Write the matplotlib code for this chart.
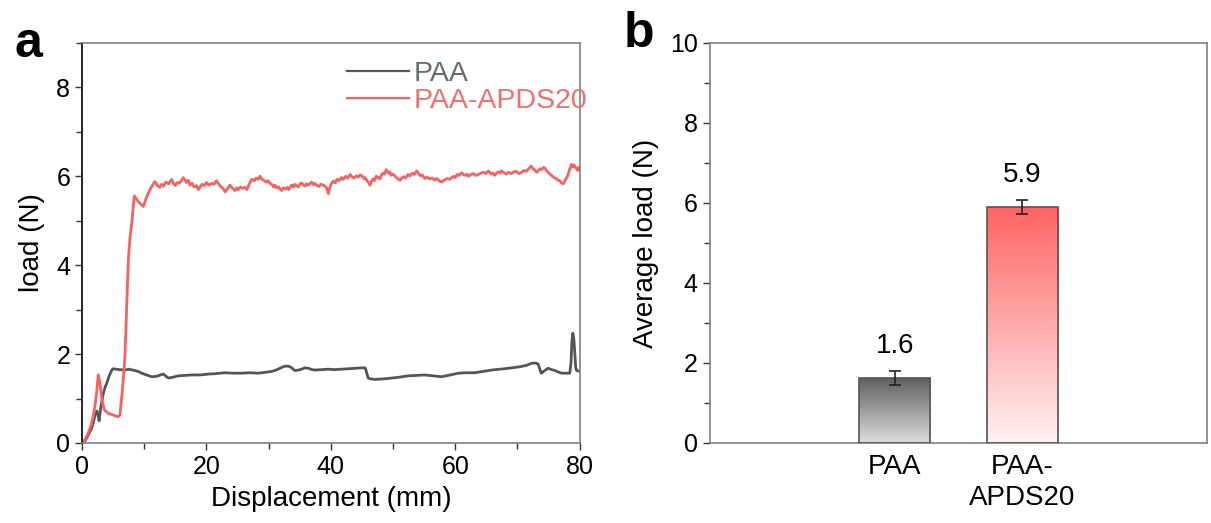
import numpy as np
import matplotlib

matplotlib.use("Agg")
import matplotlib.pyplot as plt
from matplotlib.colors import LinearSegmentedColormap
from matplotlib.ticker import MultipleLocator

plt.rcParams["font.family"] = ["Liberation Sans", "DejaVu Sans"]

# ---- panel a: load-displacement curves ----
paa_x = [0, 0.5, 1.0, 1.5, 1.8, 2.1, 2.4, 2.6, 2.75, 3.0, 3.4, 3.7, 4.0, 4.4, 4.8, 5.0,
         5.5, 6.0, 6.9, 7.5, 8.5, 9.2, 9.6, 10.4, 11.2, 12.0, 12.6, 13.1, 13.5, 13.9,
         14.6, 15.5, 16.5, 17.6, 19.0, 20.3, 21.5, 23.0, 24.3, 25.6, 27.0, 28.3, 29.5,
         30.5, 31.2, 31.8, 32.4, 32.9, 33.4, 33.7, 34.2, 34.8, 35.3, 35.8, 36.4, 37.0,
         37.4, 38.5, 39.6, 40.6, 41.7, 42.8, 43.9, 44.8, 45.5, 45.7, 46.0, 46.5, 47.1,
         48.4, 49.7, 51.0, 52.4, 53.7, 55.1, 56.5, 57.8, 59.2, 60.5, 61.8, 63.1, 64.5,
         65.8, 67.2, 68.5, 69.6, 70.6, 71.5, 72.2, 72.8, 73.3, 73.6, 73.8, 74.3, 74.9,
         75.5, 76.0, 76.5, 77.1, 77.8, 78.4, 78.6, 78.75, 78.9, 79.05, 79.2, 79.35,
         79.5, 79.8, 80.0]
paa_y = [0, 0.05, 0.18, 0.32, 0.45, 0.63, 0.72, 0.62, 0.50, 0.78, 1.10, 1.25, 1.35, 1.52,
         1.64, 1.67, 1.66, 1.65, 1.64, 1.66, 1.63, 1.60, 1.57, 1.53, 1.49, 1.50, 1.53,
         1.55, 1.50, 1.46, 1.48, 1.51, 1.52, 1.53, 1.53, 1.55, 1.56, 1.58, 1.57, 1.57,
         1.58, 1.57, 1.59, 1.61, 1.64, 1.68, 1.72, 1.73, 1.72, 1.69, 1.63, 1.64, 1.66,
         1.69, 1.68, 1.65, 1.64, 1.65, 1.66, 1.65, 1.66, 1.67, 1.68, 1.69, 1.69, 1.61,
         1.46, 1.44, 1.43, 1.44, 1.46, 1.48, 1.51, 1.52, 1.53, 1.51, 1.49, 1.53, 1.57,
         1.58, 1.58, 1.61, 1.64, 1.66, 1.68, 1.70, 1.72, 1.75, 1.79, 1.80, 1.78, 1.66,
         1.57, 1.62, 1.68, 1.65, 1.63, 1.60, 1.57, 1.57, 1.57, 1.80, 2.30, 2.47, 2.35,
         2.05, 1.70, 1.63, 1.62, 1.61]

apds_x = [0, 0.5, 1.0, 1.5, 1.8, 2.1, 2.4, 2.6, 2.75, 2.9, 3.2, 3.6, 4.2, 5.0, 5.8, 6.1,
          6.5, 6.9, 7.2, 7.45, 7.7, 8.0, 8.4, 8.7, 9.05, 9.4, 9.85, 10.4, 11.0, 11.7,
          12.1, 12.5, 12.8, 13.1, 13.5, 13.9, 14.4, 14.7, 15.0, 15.3, 15.6, 16.0, 16.3,
          16.6, 16.8, 17.1, 17.35, 17.7, 18.0, 18.4, 18.7, 19.0, 19.3, 19.7, 20.0, 20.4,
          20.8, 21.2, 21.6, 21.9, 22.3, 22.7, 23.0, 23.3, 23.5, 23.8, 24.0, 24.3, 24.6,
          24.9, 25.1, 25.5, 25.8, 26.2, 26.5, 26.8, 27.0, 27.3, 27.7, 28.0, 28.3, 28.6,
          28.9, 29.2, 29.6, 29.9, 30.2, 30.5, 30.8, 31.0, 31.3, 31.6, 31.9, 32.1, 32.4,
          32.7, 33.0, 33.2, 33.5, 33.7, 34.0, 34.2, 34.5, 34.8, 35.0, 35.3, 35.6, 35.9,
          36.1, 36.4, 36.7, 36.9, 37.2, 37.4, 37.8, 38.1, 38.4, 38.8, 39.1, 39.3, 39.5,
          39.6, 39.8, 40.0, 40.2, 40.4, 40.7, 41.0, 41.3, 41.7, 42.0, 42.4, 42.7, 43.1,
          43.4, 43.7, 44.1, 44.4, 44.7, 45.0, 45.3, 45.5, 45.8, 46.0, 46.3, 46.5, 46.8,
          47.0, 47.3, 47.6, 47.9, 48.1, 48.4, 48.6, 48.9, 49.1, 49.3, 49.5, 49.7, 50.0,
          50.4, 50.7, 51.1, 51.4, 51.7, 52.0, 52.4, 52.7, 53.1, 53.4, 53.8, 54.1, 54.4,
          54.7, 55.1, 55.5, 55.9, 56.3, 56.7, 57.0, 57.2, 57.5, 57.8, 58.2, 58.7, 59.1,
          59.7, 60.0, 60.3, 60.6, 61.0, 61.3, 61.6, 61.9, 62.1, 62.5, 62.9, 63.3, 63.7,
          64.1, 64.5, 64.9, 65.3, 65.6, 65.8, 66.1, 66.3, 66.6, 66.9, 67.2, 67.4, 67.8,
          68.2, 68.6, 69.0, 69.4, 69.8, 70.2, 70.6, 71.0, 71.4, 71.8, 72.2, 72.5, 72.8,
          73.1, 73.3, 73.6, 73.9, 74.2, 74.4, 74.7, 74.9, 75.2, 75.4, 75.7, 76.0, 76.3,
          76.5, 76.8, 77.0, 77.3, 77.5, 77.7, 77.9, 78.1, 78.3, 78.5, 78.7, 78.9, 79.1,
          79.3, 79.5, 79.7, 79.85, 80.0]
apds_y = [0, 0.08, 0.22, 0.42, 0.59, 0.85, 1.19, 1.53, 1.45, 1.34, 0.97, 0.74, 0.67,
          0.63, 0.59, 0.63, 1.20, 1.94, 3.10, 4.12, 4.60, 4.95, 5.56, 5.50, 5.43, 5.38,
          5.32, 5.54, 5.72, 5.88, 5.80, 5.75, 5.82, 5.78, 5.87, 5.83, 5.93, 5.84, 5.79,
          5.86, 5.84, 5.91, 5.97, 5.90, 5.86, 5.91, 5.80, 5.84, 5.76, 5.79, 5.70, 5.76,
          5.82, 5.79, 5.86, 5.80, 5.84, 5.82, 5.90, 5.84, 5.77, 5.72, 5.65, 5.70, 5.75,
          5.80, 5.76, 5.72, 5.68, 5.74, 5.70, 5.76, 5.73, 5.75, 5.70, 5.80, 5.86, 5.93,
          5.90, 5.96, 5.93, 6.00, 5.94, 5.91, 5.87, 5.90, 5.84, 5.82, 5.76, 5.80, 5.74,
          5.76, 5.70, 5.68, 5.74, 5.71, 5.75, 5.70, 5.76, 5.80, 5.76, 5.82, 5.79, 5.76,
          5.82, 5.85, 5.80, 5.78, 5.83, 5.80, 5.84, 5.87, 5.81, 5.84, 5.79, 5.77, 5.82,
          5.80, 5.77, 5.74, 5.66, 5.61, 5.72, 5.81, 5.86, 5.89, 5.85, 5.93, 5.90, 5.97,
          5.93, 6.00, 5.96, 6.04, 5.99, 5.96, 6.01, 5.98, 6.03, 6.01, 5.95, 5.97, 5.90,
          5.87, 5.80, 5.88, 5.94, 5.90, 6.00, 5.97, 5.94, 6.02, 6.07, 6.05, 6.15, 6.10,
          6.07, 6.10, 6.02, 6.05, 5.99, 5.95, 5.91, 5.96, 5.99, 5.96, 6.04, 6.01, 6.07,
          6.04, 6.12, 6.06, 6.01, 6.03, 5.95, 5.98, 5.94, 5.96, 5.91, 5.95, 5.93, 5.89,
          5.87, 5.91, 5.95, 5.93, 6.00, 5.97, 6.04, 6.02, 6.08, 6.04, 6.02, 6.05, 6.00,
          6.04, 6.06, 6.02, 6.04, 6.07, 6.09, 6.06, 6.12, 6.08, 6.05, 6.07, 6.02, 6.06,
          6.10, 6.07, 6.12, 6.08, 6.05, 6.09, 6.06, 6.10, 6.11, 6.06, 6.08, 6.13, 6.11,
          6.17, 6.23, 6.17, 6.14, 6.09, 6.12, 6.17, 6.15, 6.20, 6.18, 6.12, 6.09, 6.05,
          6.03, 5.99, 5.96, 5.94, 5.91, 5.90, 5.86, 5.83, 5.86, 5.92, 5.97, 6.02, 6.12,
          6.20, 6.27, 6.21, 6.25, 6.20, 6.17, 6.13, 6.20, 6.16]

# ---- panel b: average load ----
samples = ["PAA", "PAA-\nAPDS20"]
avg_load = [1.63, 5.9]
load_err = [0.18, 0.17]
value_labels = ["1.6", "5.9"]

gray_line = "#555555"
red_line = "#f46262"
spine_gray = "#808080"

fig = plt.figure(figsize=(12.11, 5.23), dpi=100)
ax_a = fig.add_axes([0.0677, 0.153, 0.411, 0.765])
ax_b = fig.add_axes([0.586, 0.153, 0.411, 0.765])

# panel a
ax_a.plot(paa_x, paa_y, color=gray_line, lw=2.0, label="PAA")
ax_a.plot(apds_x, apds_y, color=red_line, lw=2.0, label="PAA-APDS20")
ax_a.set_xlim(0, 80)
ax_a.set_ylim(0, 9)
ax_a.xaxis.set_major_locator(MultipleLocator(20))
ax_a.xaxis.set_minor_locator(MultipleLocator(10))
ax_a.yaxis.set_major_locator(MultipleLocator(2))
ax_a.yaxis.set_minor_locator(MultipleLocator(1))
ax_a.set_xlabel("Displacement (mm)", fontsize=20, labelpad=5)
ax_a.set_ylabel("load (N)", fontsize=20, labelpad=8)
ax_a.legend(loc="upper left", bbox_to_anchor=(0.48, 1.02), frameon=False,
            fontsize=20.5, handlelength=2.2, handletextpad=0.15,
            labelspacing=0.05, labelcolor=["#5f6e6e", "#f07070"])
for line in ax_a.get_legend().get_lines():
    line.set_linewidth(1.6)

# panel b with gradient-filled bars
pos = np.arange(1, len(samples) + 1)
bars = ax_b.bar(pos, avg_load, width=0.56, facecolor="none",
                edgecolor="#555555", linewidth=1.2, zorder=3)
grads = [("#dedede", "#5e5e5e"), ("#fff2f2", "#ff6363")]
for bar, (c_lo, c_hi) in zip(bars, grads):
    cmap = LinearSegmentedColormap.from_list("g", [c_lo, c_hi])
    x0, y0 = bar.get_x(), bar.get_y()
    w, h = bar.get_width(), bar.get_height()
    img = ax_b.imshow(np.linspace(0, 1, 256).reshape(-1, 1), cmap=cmap,
                      extent=[x0, x0 + w, y0, y0 + h], origin="lower",
                      aspect="auto", zorder=2)
    img.set_clip_path(bar)
ax_b.errorbar(pos, avg_load, yerr=load_err, fmt="none", ecolor="#222222",
              elinewidth=1.2, capsize=4, capthick=1.2, zorder=4)
for p, v, e, t in zip(pos, avg_load, load_err, value_labels):
    ax_b.text(p, v + e + 0.3, t, ha="center", va="bottom", fontsize=20)
ax_b.set_xlim(-0.45, 3.45)
ax_b.set_ylim(0, 10)
ax_b.set_xticks(pos)
ax_b.set_xticklabels(samples, fontsize=20, linespacing=1.25)
ax_b.yaxis.set_major_locator(MultipleLocator(2))
ax_b.yaxis.set_minor_locator(MultipleLocator(1))
ax_b.set_ylabel("Average load (N)", fontsize=20, labelpad=8)

for ax in (ax_a, ax_b):
    ax.tick_params(axis="both", which="major", labelsize=18, direction="out",
                   length=5, width=1.0, color="#333333")
    ax.tick_params(axis="both", which="minor", direction="out", length=4,
                   width=1.0, color="#333333")
    for s in ax.spines.values():
        s.set_color(spine_gray)
        s.set_linewidth(1.2)
ax_a.spines["left"].set_color("black")
ax_b.tick_params(axis="x", which="both", length=0, pad=8, labelsize=20)

fig.text(0.012, 0.915, "a", fontsize=36, fontweight="bold", va="center")
fig.text(0.515, 0.935, "b", fontsize=36, fontweight="bold", va="center")

fig.savefig("out.png", dpi=100)
